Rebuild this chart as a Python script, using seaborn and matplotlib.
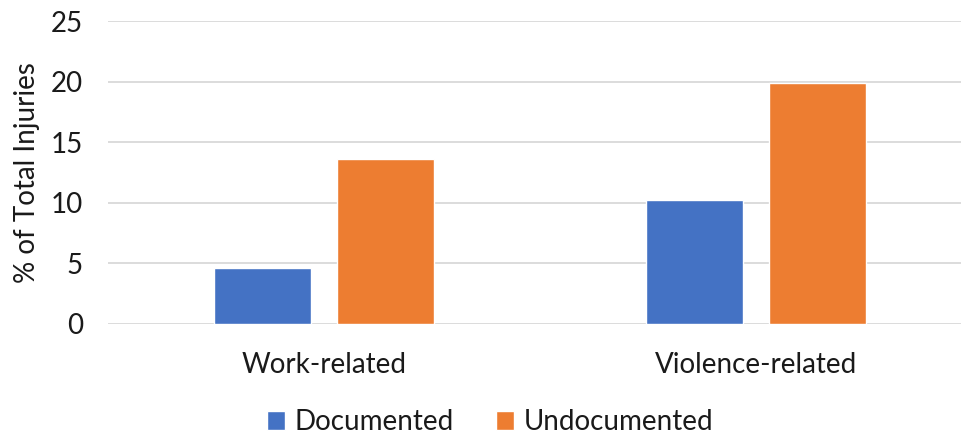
import matplotlib
matplotlib.use("Agg")
import matplotlib.pyplot as plt
import seaborn as sns
import pandas as pd
from matplotlib.patches import Patch

categories = ["Work-related", "Violence-related"]
series = ["Documented", "Undocumented"]
documented = [4.6, 10.2]
undocumented = [13.6, 19.9]
yticks = [0, 5, 10, 15, 20, 25]
colors = ["#4472C4", "#ED7D31"]

df = pd.DataFrame({
    "category": categories * 2,
    "status": [series[0]] * 2 + [series[1]] * 2,
    "value": documented + undocumented,
})

sns.set_theme(style="white")
plt.rcParams["font.family"] = ["Lato", "DejaVu Sans"]

fig = plt.figure(figsize=(9.62, 4.37), dpi=100)
W, H = 962, 437
left, right, top, bottom = 108, 962, 21, 324
ax = fig.add_axes([left / W, 1 - bottom / H, (right - left) / W, (bottom - top) / H])

sns.barplot(data=df, x="category", y="value", hue="status", order=categories,
            hue_order=series, palette=colors, width=0.57, gap=0.21,
            saturation=1, ax=ax, legend=False)

ax.set_ylim(0, 25)
ax.set_xlim(-0.5, 1.5 - 10 / 432)
ax.set_yticks(yticks)
ax.set_yticklabels([str(t) for t in yticks])
ax.yaxis.grid(True, color="#d9d9d9", linewidth=1.3)
ax.set_axisbelow(True)
for s in ax.spines.values():
    s.set_visible(False)
ax.tick_params(axis="both", length=0, labelsize=20, colors="#1a1a1a", pad=18)
ax.tick_params(axis="x", pad=20)
ax.set_xlabel("")
ax.set_ylabel("% of Total Injuries", fontsize=20, color="#1a1a1a", labelpad=8)

handles = [Patch(facecolor=c, label=s) for c, s in zip(colors, series)]
fig.legend(handles=handles, loc="center", bbox_to_anchor=(490 / W, 1 - 422 / H),
           ncol=2, frameon=False, fontsize=20, handlelength=0.65, handleheight=0.65,
           handletextpad=0.35, columnspacing=1.5, labelcolor="#1a1a1a")

fig.savefig("out.png", dpi=100)
